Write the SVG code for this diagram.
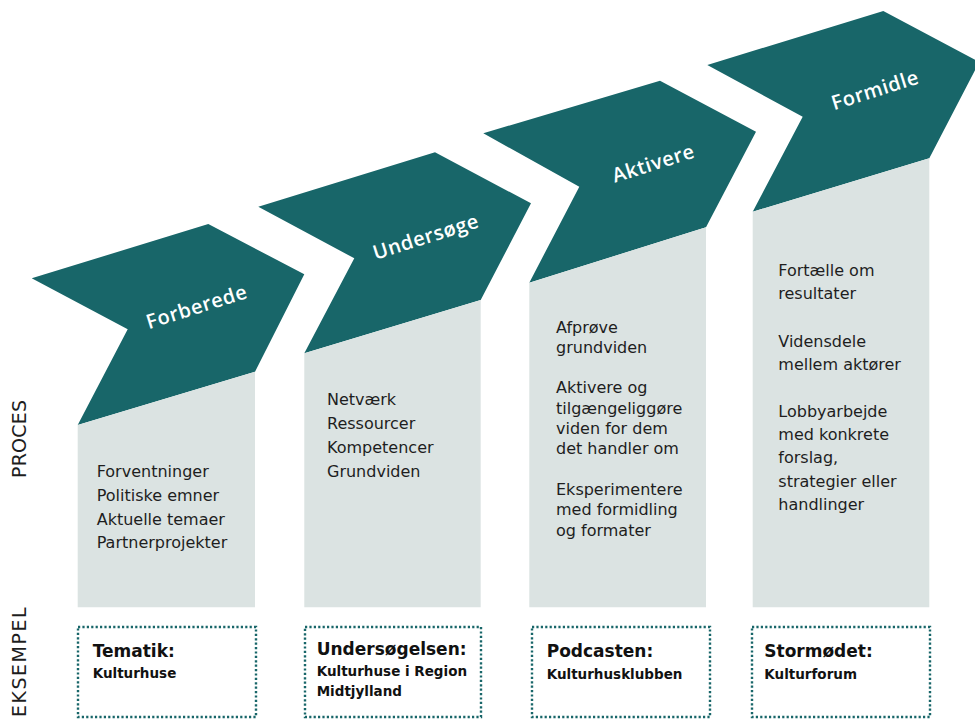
<svg xmlns="http://www.w3.org/2000/svg" width="975" height="720" viewBox="0 0 975 720">
<style>
.chev{fill:#186669}
.panel{fill:#dbe3e2}
.title{font-family:"Open Sans","DejaVu Sans",sans-serif;font-weight:600;font-size:20px;fill:#ffffff;letter-spacing:0.6px}
.body{font-family:"DejaVu Sans",sans-serif;font-size:16px;fill:#1e1e1e}
.side{font-family:"DejaVu Sans",sans-serif;font-size:19px;fill:#1e1e1e}
.box{fill:none;stroke:#186669;stroke-width:2.4;stroke-dasharray:2.2 2.2}
.bh{font-family:"DejaVu Sans",sans-serif;font-weight:bold;font-size:17px;fill:#111}
.bs{font-family:"DejaVu Sans",sans-serif;font-weight:bold;font-size:13.5px;fill:#111}
</style>
<rect width="975" height="720" fill="#ffffff"/>

<g id="side-labels">
  <text class="side" transform="translate(25.5,478) rotate(-90)" letter-spacing="0.2">PROCES</text>
  <text class="side" transform="translate(25.5,606) rotate(-90)" text-anchor="end" letter-spacing="1.5">EKSEMPEL</text>
</g>

<g id="step-forberede">
  <polygon class="chev" points="31.7,278.3 208.3,224 304.3,274.3 255,371.7 77.7,425 127.7,329.3"/>
  <polygon class="panel" points="77.7,425 255,371.7 255,607.3 77.7,607.3"/>
  <text class="title" text-anchor="middle" dy="0.35em" transform="translate(196.7,306.7) rotate(-17.5)">Forberede</text>
  <text class="body" x="96.7" y="476.7">Forventninger</text>
  <text class="body" x="96.7" y="500.6">Politiske emner</text>
  <text class="body" x="96.7" y="524.5">Aktuelle temaer</text>
  <text class="body" x="96.7" y="548.4">Partnerprojekter</text>
</g>

<g id="step-undersoege">
  <polygon class="chev" points="258.3,206.7 435,152.3 531,203.3 480.7,300 304.3,353.3 354.3,258.3"/>
  <polygon class="panel" points="304.3,353.3 480.7,300 480.7,607.3 304.3,607.3"/>
  <text class="title" text-anchor="middle" dy="0.35em" transform="translate(425.8,236.7) rotate(-17.5)">Undersøge</text>
  <text class="body" x="327" y="405">Netværk</text>
  <text class="body" x="327" y="429">Ressourcer</text>
  <text class="body" x="327" y="453">Kompetencer</text>
  <text class="body" x="327" y="477">Grundviden</text>
</g>

<g id="step-aktivere">
  <polygon class="chev" points="483.3,133.3 660,80.7 756,131.7 706,227.3 529.3,282.7 579.3,186.7"/>
  <polygon class="panel" points="529.3,282.7 706,227.3 706,607.3 529.3,607.3"/>
  <text class="title" text-anchor="middle" dy="0.35em" transform="translate(653.3,163.3) rotate(-17.5)">Aktivere</text>
  <text class="body" x="556" y="332.5">Afprøve</text>
  <text class="body" x="556" y="352.8">grundviden</text>
  <text class="body" x="556" y="393.4">Aktivere og</text>
  <text class="body" x="556" y="413.7">tilgængeliggøre</text>
  <text class="body" x="556" y="434">viden for dem</text>
  <text class="body" x="556" y="454.3">det handler om</text>
  <text class="body" x="556" y="494.9">Eksperimentere</text>
  <text class="body" x="556" y="515.2">med formidling</text>
  <text class="body" x="556" y="535.5">og formater</text>
</g>

<g id="step-formidle">
  <polygon class="chev" points="707.3,65 883.3,11 979.3,62 929.3,158.3 752.7,211.7 802.7,116.7"/>
  <polygon class="panel" points="752.7,211.7 929.3,158.3 929.3,607.3 752.7,607.3"/>
  <text class="title" text-anchor="middle" dy="0.35em" transform="translate(875,90) rotate(-17.5)">Formidle</text>
  <text class="body" x="778.3" y="276">Fortælle om</text>
  <text class="body" x="778.3" y="299.4">resultater</text>
  <text class="body" x="778.3" y="346.6">Vidensdele</text>
  <text class="body" x="778.3" y="370">mellem aktører</text>
  <text class="body" x="778.3" y="416.7">Lobbyarbejde</text>
  <text class="body" x="778.3" y="440">med konkrete</text>
  <text class="body" x="778.3" y="463.4">forslag,</text>
  <text class="body" x="778.3" y="486.8">strategier eller</text>
  <text class="body" x="778.3" y="510.2">handlinger</text>
</g>

<g id="example-tematik">
  <rect class="box" x="78" y="627" width="178" height="90"/>
  <text class="bh" x="92.7" y="656.7">Tematik:</text>
  <text class="bs" x="92.7" y="678.3">Kulturhuse</text>
</g>

<g id="example-undersoegelsen">
  <rect class="box" x="305" y="627" width="176" height="90"/>
  <text class="bh" x="316.7" y="655">Undersøgelsen:</text>
  <text class="bs" x="316.7" y="675.5">Kulturhuse i Region</text>
  <text class="bs" x="316.7" y="696">Midtjylland</text>
</g>

<g id="example-podcasten">
  <rect class="box" x="532" y="627" width="178" height="90"/>
  <text class="bh" x="546.7" y="656.7">Podcasten:</text>
  <text class="bs" x="546.7" y="679">Kulturhusklubben</text>
</g>

<g id="example-stormoedet">
  <rect class="box" x="752" y="627" width="178" height="90"/>
  <text class="bh" x="764.3" y="656.7">Stormødet:</text>
  <text class="bs" x="764.3" y="679">Kulturforum</text>
</g>

<g id="connectors"></g>
</svg>
